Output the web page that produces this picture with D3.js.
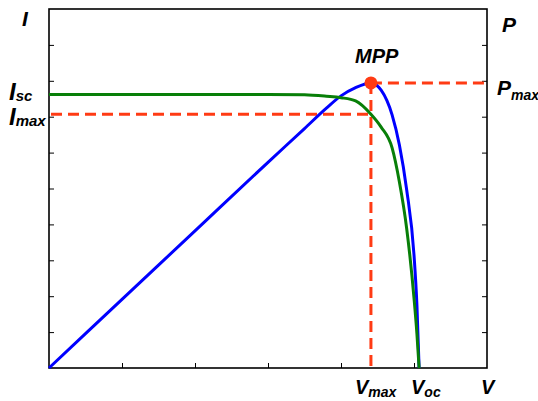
<!DOCTYPE html>
<html>
<head>
<meta charset="utf-8">
<script src="https://cdn.jsdelivr.net/npm/d3@7"></script>
<style>
  html, body { margin: 0; padding: 0; background: #fff; }
  svg { display: block; }
  text { font-family: "Liberation Sans", Arial, sans-serif; font-weight: bold; font-style: italic; fill: #000; }
</style>
</head>
<body>
<svg id="chart" width="538" height="401"></svg>
<script>
// Solar cell characteristic: current I(V) and power P(V), in axis units (0..6 V, 0..10 I/P)
const voltage = [0, 1, 2, 3, 3.5, 3.8, 4.0, 4.2, 4.41, 4.55, 4.7, 4.8, 4.9, 5.0, 5.04, 5.07];
const current = [7.62, 7.62, 7.62, 7.62, 7.61, 7.57, 7.53, 7.44, 7.07, 6.71, 6.13, 5.18, 3.88, 1.95, 0.95, 0];
const power   = [0, 1.91, 3.82, 5.73, 6.67, 7.24, 7.58, 7.81, 7.94, 7.74, 7.05, 6.21, 4.96, 3.15, 1.75, 0];

// Maximum power point
const vMax = 4.41, iMax = 7.07, pMax = 7.94;

const xTicks = [1, 2, 3, 4, 5];
const yTicks = [1, 2, 3, 4, 5, 6, 7, 8, 9];

const svg = d3.select("#chart");
const plotLeft = 49, plotRight = 487, plotTop = 9, plotBottom = 368;

const x = d3.scaleLinear([0, 6], [plotLeft, plotRight]);
const yI = d3.scaleLinear([0, 10], [plotBottom, plotTop]);
const yP = d3.scaleLinear([0, 10], [plotBottom, plotTop]);

const red = "#ff3b14";

// Frame
svg.append("rect")
  .attr("x", plotLeft).attr("y", plotTop)
  .attr("width", plotRight - plotLeft).attr("height", plotBottom - plotTop)
  .attr("fill", "none").attr("stroke", "#000").attr("stroke-width", 1.6);

// Inward ticks on left, right and bottom
const styleAxis = g => {
  g.select(".domain").remove();
  g.selectAll(".tick line").attr("stroke", "#000").attr("stroke-width", 1);
  g.selectAll(".tick text").remove();
};
svg.append("g").attr("transform", `translate(${plotLeft},0)`)
  .call(d3.axisRight(yI).tickValues(yTicks).tickSize(5).tickSizeOuter(0).tickFormat(""))
  .call(styleAxis);
svg.append("g").attr("transform", `translate(${plotRight},0)`)
  .call(d3.axisLeft(yP).tickValues(yTicks).tickSize(5).tickSizeOuter(0).tickFormat(""))
  .call(styleAxis);
svg.append("g").attr("transform", `translate(0,${plotBottom})`)
  .call(d3.axisTop(x).tickValues(xTicks).tickSize(5).tickSizeOuter(0).tickFormat(""))
  .call(styleAxis);

// MPP guide lines
const dash = "11,6";
svg.append("line")
  .attr("x1", x(0) + 2).attr("x2", x(vMax))
  .attr("y1", yI(iMax)).attr("y2", yI(iMax))
  .attr("stroke", red).attr("stroke-width", 3).attr("stroke-dasharray", dash);
svg.append("line")
  .attr("x1", x(vMax)).attr("x2", x(vMax))
  .attr("y1", yP(pMax)).attr("y2", plotBottom)
  .attr("stroke", red).attr("stroke-width", 3).attr("stroke-dasharray", dash);
svg.append("line")
  .attr("x1", x(vMax)).attr("x2", plotRight)
  .attr("y1", yP(pMax)).attr("y2", yP(pMax))
  .attr("stroke", red).attr("stroke-width", 3).attr("stroke-dasharray", dash);

// Curves
const idx = d3.range(voltage.length);
const lineI = d3.line().x(i => x(voltage[i])).y(i => yI(current[i])).curve(d3.curveMonotoneX);
const lineP = d3.line().x(i => x(voltage[i])).y(i => yP(power[i])).curve(d3.curveMonotoneX);

svg.append("path").attr("d", lineP(idx))
  .attr("fill", "none").attr("stroke", "#0000ff").attr("stroke-width", 3);
svg.append("path").attr("d", lineI(idx))
  .attr("fill", "none").attr("stroke", "#087f08").attr("stroke-width", 3);

// MPP marker
svg.append("circle")
  .attr("cx", x(vMax)).attr("cy", yP(pMax)).attr("r", 6.5)
  .attr("fill", red);

// Labels
function label(px, py, main, sub, size, subSize, dy) {
  const t = svg.append("text").attr("x", px).attr("y", py).style("font-size", size + "px");
  t.append("tspan").text(main);
  if (sub) t.append("tspan").attr("dy", dy).style("font-size", subSize + "px").text(sub);
}
label(22, 26, "I", null, 21);
label(502, 32, "P", null, 21);
label(9, 100, "I", "sc", 24, 15, 1);
label(9, 125, "I", "max", 24, 15, 1);
label(497, 95, "P", "max", 21, 14, 5);
label(355, 63, "MPP", null, 20);
label(355, 394, "V", "max", 20, 14, 3);
label(411, 394, "V", "oc", 20, 14, 3);
label(481, 394, "V", null, 20);
</script>
</body>
</html>
